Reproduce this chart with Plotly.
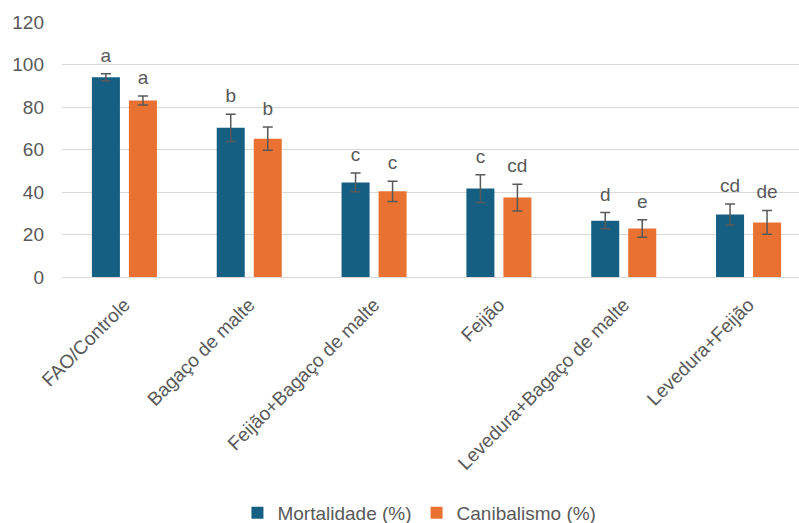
import plotly.graph_objects as go

# Tratamentos (dietas) e resultados
categorias = ["FAO/Controle", "Bagaço de malte", "Feijão+Bagaço de malte",
              "Feijão", "Levedura+Bagaço de malte", "Levedura+Feijão"]

mortalidade = [94.0, 70.2, 44.5, 41.6, 26.5, 29.4]
mortalidade_ep = [1.7, 6.4, 4.4, 6.5, 3.8, 4.9]
mortalidade_letras = ["a", "b", "c", "c", "d", "cd"]

canibalismo = [83.1, 65.1, 40.3, 37.4, 22.8, 25.7]
canibalismo_ep = [2.1, 5.5, 4.8, 6.3, 4.1, 5.6]
canibalismo_letras = ["a", "b", "c", "cd", "e", "de"]

y_ticks = [0, 20, 40, 60, 80, 100, 120]

AZUL = "#156082"
LARANJA = "#E97132"
CINZA = "#595959"
FONTE = "Liberation Sans, Arial, sans-serif"
TAM = 19

fig = go.Figure()

series = [
    ("Mortalidade (%)", mortalidade, mortalidade_ep, mortalidade_letras, AZUL, "m"),
    ("Canibalismo (%)", canibalismo, canibalismo_ep, canibalismo_letras, LARANJA, "c"),
]

for nome, valores, ep, letras, cor, grupo in series:
    fig.add_trace(go.Bar(
        name=nome, x=categorias, y=valores, offsetgroup=grupo,
        marker=dict(color=cor, line=dict(width=0)),
        error_y=dict(type="data", array=ep, visible=True,
                     color=CINZA, thickness=1.5, width=5),
    ))

# Letras de significância acima das barras de erro
for nome, valores, ep, letras, cor, grupo in series:
    fig.add_trace(go.Scatter(
        x=categorias, y=[v + e for v, e in zip(valores, ep)],
        offsetgroup=grupo, mode="markers+text", text=letras,
        marker=dict(size=10, opacity=0),
        textposition="top center",
        textfont=dict(size=TAM, color=CINZA, family=FONTE),
        showlegend=False, hoverinfo="skip",
    ))

fig.update_layout(
    width=799, height=523,
    margin=dict(l=62, r=0, t=22, b=246, autoexpand=False),
    paper_bgcolor="white", plot_bgcolor="white",
    barmode="group", bargap=0.407, bargroupgap=0.243,
    scattermode="group", scattergap=0.407,
    font=dict(family=FONTE, size=TAM, color=CINZA),
    legend=dict(orientation="h", x=0.485, xanchor="center",
                y=-0.925, yanchor="middle",
                font=dict(size=TAM, color=CINZA, family=FONTE),
                itemwidth=30, traceorder="normal"),
    showlegend=True,
)

fig.update_xaxes(
    type="category", range=[-0.5, 5.404], automargin=False,
    tickangle=-45, tickfont=dict(size=TAM, color=CINZA),
    showgrid=False, showline=False, zeroline=False, ticks="",
    ticklabelstandoff=12,
)
fig.update_yaxes(
    range=[0, 120], tickvals=y_ticks, automargin=False,
    showgrid=True, gridcolor="#D9D9D9", gridwidth=1,
    zeroline=True, zerolinecolor="#D9D9D9", zerolinewidth=1,
    showline=False, ticks="", tickfont=dict(size=TAM, color=CINZA),
    ticklabelstandoff=17,
)

fig.write_html("out.html")
